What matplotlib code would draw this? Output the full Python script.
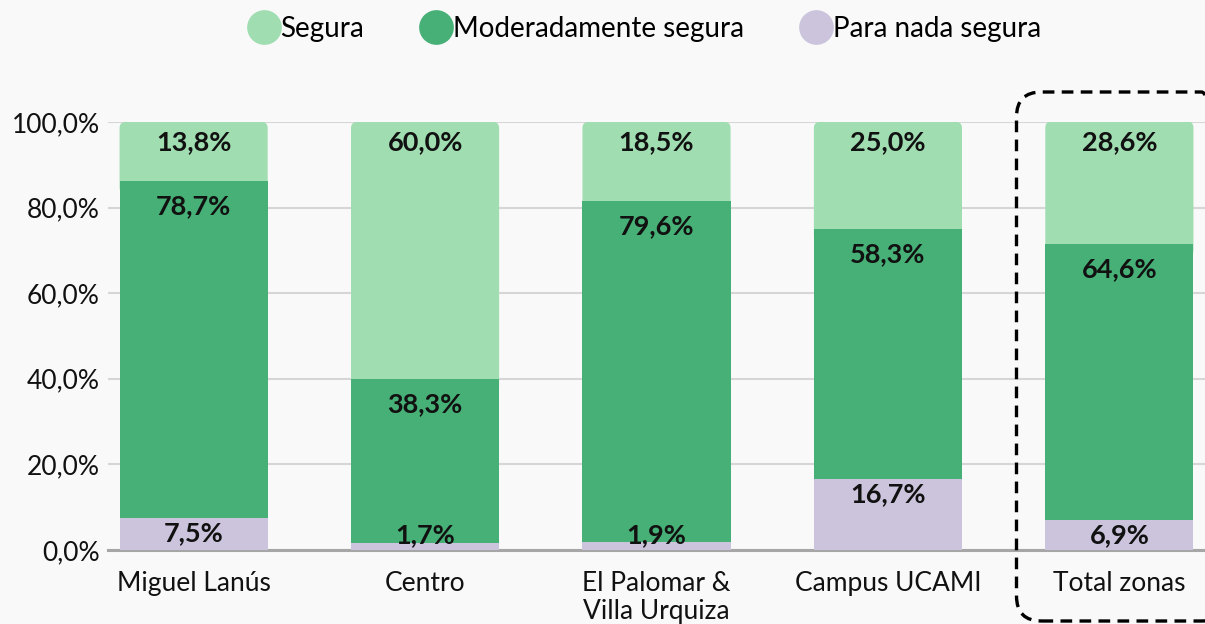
import matplotlib
matplotlib.use("Agg")
import matplotlib.pyplot as plt
import numpy as np
from matplotlib.patches import FancyBboxPatch
from matplotlib.lines import Line2D

plt.rcParams['font.family'] = ['Lato', 'DejaVu Sans']

categories = ["Miguel Lanús", "Centro", "El Palomar &\nVilla Urquiza", "Campus UCAMI", "Total zonas"]
para_nada = [7.5, 1.7, 1.9, 16.7, 6.9]
moderada = [78.7, 38.3, 79.6, 58.3, 64.6]
segura = [13.8, 60.0, 18.5, 25.0, 28.6]
series_names = ["Segura", "Moderadamente segura", "Para nada segura"]
yticks = [0, 20, 40, 60, 80, 100]

c_seg = "#a0ddb1"
c_mod = "#46b076"
c_pn = "#cbc4dc"
txt = "#111111"

fig = plt.figure(figsize=(12.05, 6.24), dpi=100)
fig.patch.set_facecolor("#f9f9f9")
ax = fig.add_axes([108/1205, 74/624, (1205-108)/1205, (550-122)/624])
ax.set_facecolor("none")

x = np.arange(len(categories))
w = 0.64
pn = np.array(para_nada)
md = np.array(moderada)
sg = np.array(segura)

ax.set_xlim(-0.37, 4.37)
ax.set_ylim(0, 100)

ax.bar(x, pn, w, color=c_pn, zorder=3)
ax.bar(x, md, w, bottom=pn, color=c_mod, zorder=3)
top_bars = ax.bar(x, sg, w, bottom=pn + md, color=c_seg, zorder=2.9)

# rounded top corners for the top segment
fig.canvas.draw()
ppx = ax.transData.transform([(0, 0), (1, 1)])
xu_per_px = 1.0 / (ppx[1, 0] - ppx[0, 0])
yu_per_px = 1.0 / (ppx[1, 1] - ppx[0, 1])
aspect = yu_per_px / xu_per_px
r = 6 * xu_per_px
for p in top_bars.patches:
    p.set_visible(False)
    ext = 3.0
    fb = FancyBboxPatch((p.get_x(), p.get_y() - ext), p.get_width(), p.get_height() + ext,
                        boxstyle=f"round,pad=0,rounding_size={r}", mutation_aspect=aspect,
                        facecolor=c_seg, edgecolor="none", zorder=2.9)
    ax.add_patch(fb)

ax.set_yticks(yticks)
ax.set_yticklabels([f"{v:.1f}%".replace(".", ",") for v in yticks], fontsize=19, color=txt)
ax.set_xticks(x)
ax.set_xticklabels(categories, fontsize=19, color=txt, linespacing=1.15, va="top")
ax.tick_params(axis="both", length=0)
ax.tick_params(axis="y", pad=6)
ax.tick_params(axis="x", pad=15)
for s in ax.spines.values():
    s.set_visible(False)
ax.grid(axis="y", color="#d6d6d6", linewidth=1.5, zorder=0)
ax.axhline(0, color="#a6a6a6", linewidth=2.2, zorder=2, clip_on=False)

def fmt(v):
    return f"{v:.1f}%".replace(".", ",")

for i in range(len(categories)):
    top_seg = pn[i] + md[i] + sg[i]
    ax.annotate(fmt(sg[i]), (x[i], top_seg), xytext=(0, -14.5), textcoords="offset points",
                ha="center", va="center", fontsize=19.5, fontweight="bold", color=txt, zorder=5)
    ax.annotate(fmt(md[i]), (x[i], pn[i] + md[i]), xytext=(0, -18), textcoords="offset points",
                ha="center", va="center", fontsize=19.5, fontweight="bold", color=txt, zorder=5)
    ypn = max(pn[i], 7.0)
    ax.annotate(fmt(pn[i]), (x[i], ypn), xytext=(0, -11), textcoords="offset points",
                ha="center", va="center", fontsize=19.5, fontweight="bold", color=txt, zorder=5)

handles = [Line2D([], [], marker="o", linestyle="none", markersize=25, markerfacecolor=c,
                  markeredgecolor="none") for c in (c_seg, c_mod, c_pn)]
fig.legend(handles, series_names, loc="center", bbox_to_anchor=(644/1205, 1 - 29/624), ncol=3,
           frameon=False, fontsize=20, handletextpad=0.0, columnspacing=2.0, handlelength=1.2)

box = FancyBboxPatch((10.165, 0.03), 2.1, 5.29, boxstyle="round,pad=0,rounding_size=0.25",
                     transform=fig.dpi_scale_trans, fill=False, edgecolor="black",
                     linewidth=2.4, linestyle=(0, (3.5, 2.2)), zorder=10)
fig.patches.append(box)

fig.savefig("out.png", dpi=100, facecolor=fig.get_facecolor())
